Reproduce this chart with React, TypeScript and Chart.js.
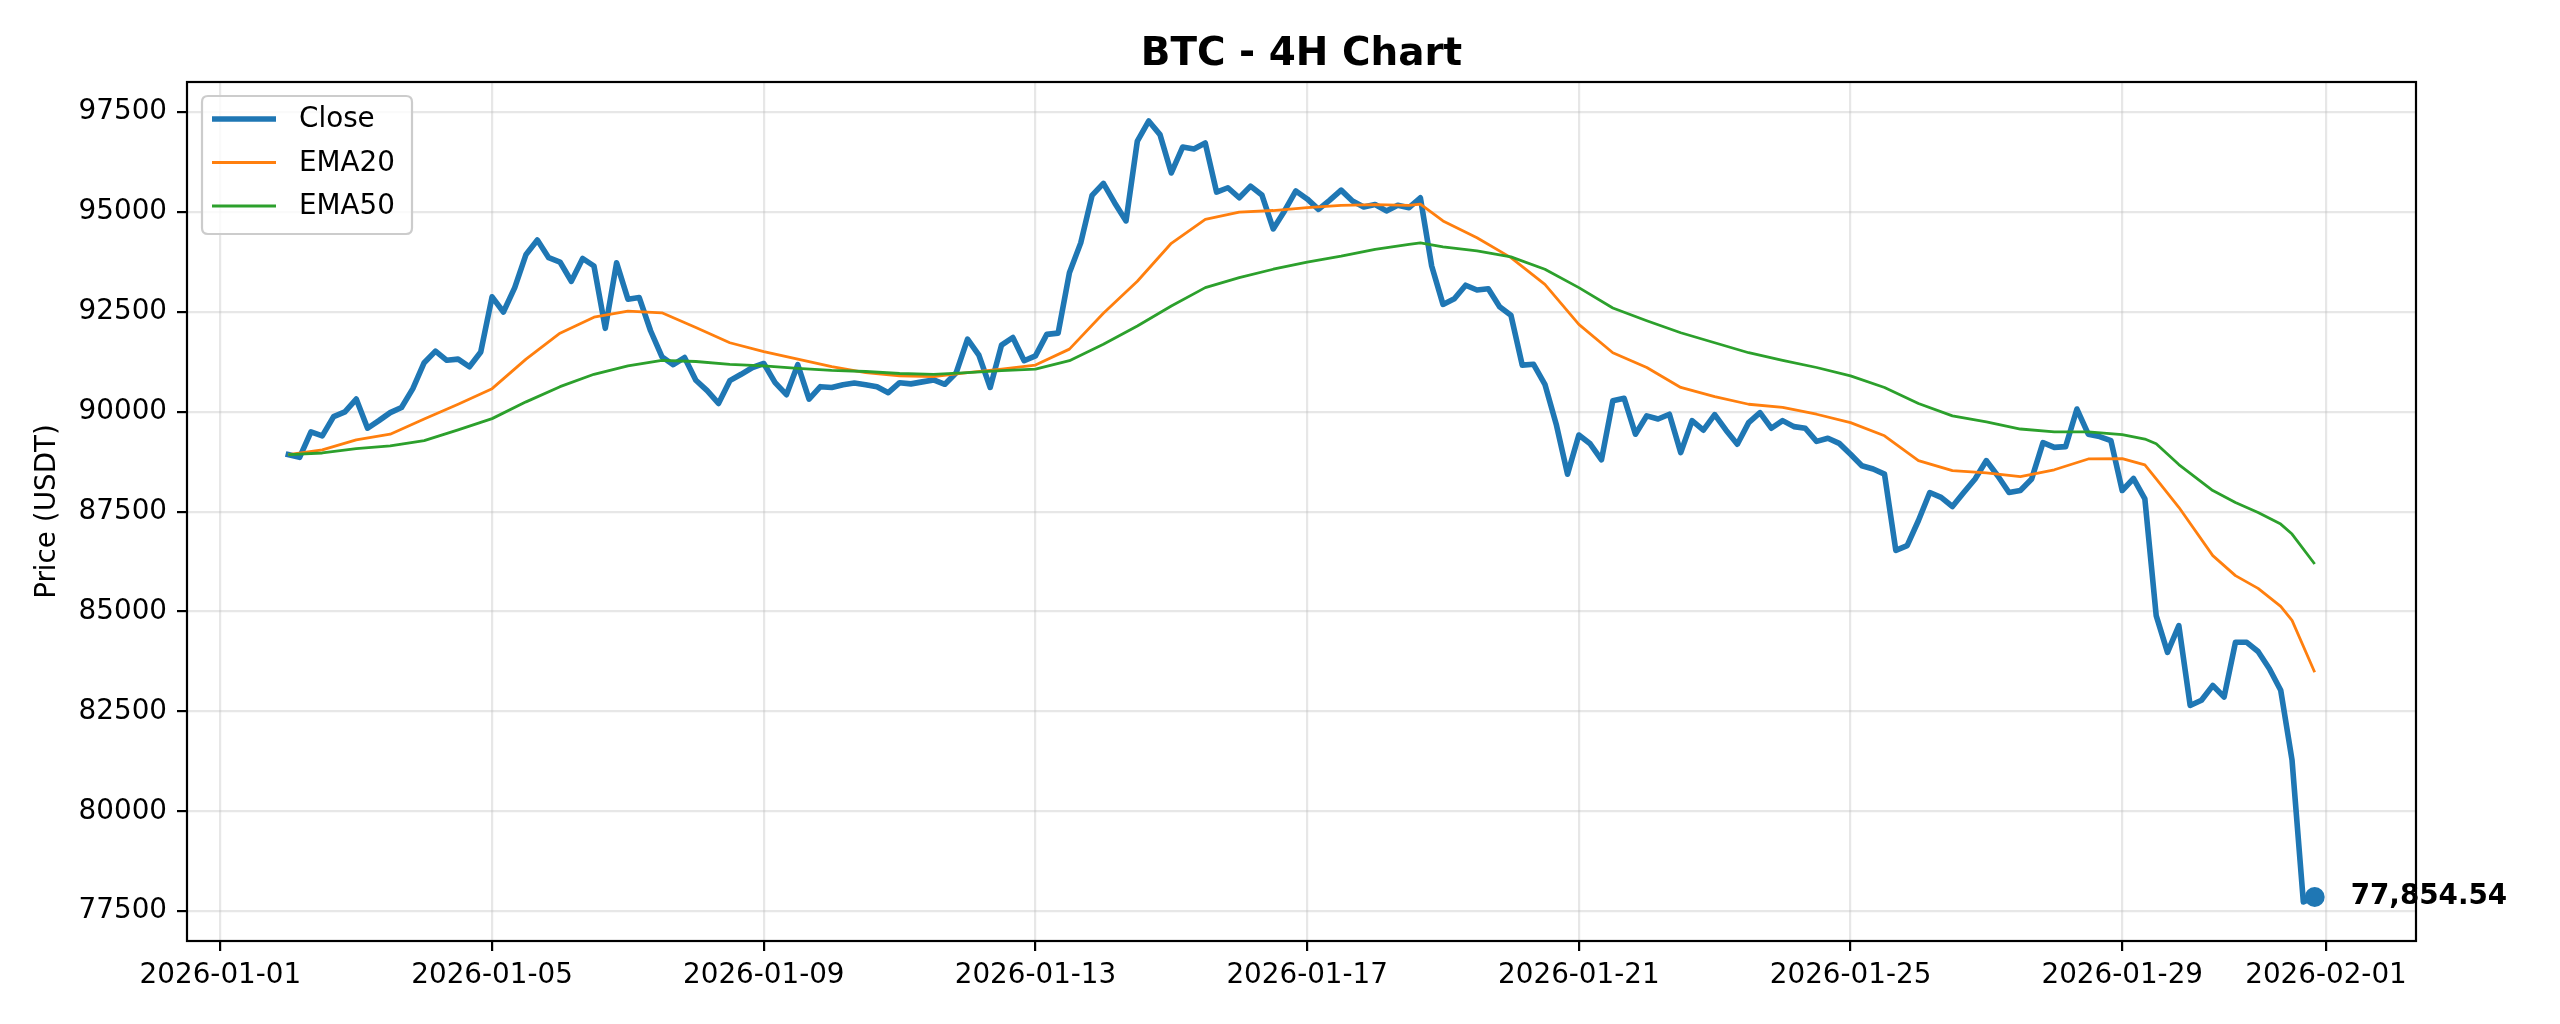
import React, { useEffect, useRef } from "react";
import { Chart, registerables } from "chart.js";

Chart.register(...registerables);

// ---------------- data ----------------
const chartTitle = "BTC - 4H Chart";
const yAxisTitle = "Price (USDT)";
const seriesLabels = ["Close", "EMA20", "EMA50"];
const seriesColors = ["#1f77b4", "#ff7f0e", "#2ca02c"];

const epochDate = "2026-01-01";
const firstBarDate = "2026-01-02";
const stepHours = 4;

// 4H close prices, first bar 2026-01-02 00:00
const closes = [
  88930, 88860, 89500, 89400, 89880, 90000, 90320, 89590, 89780, 89980,
  90110, 90580, 91230, 91520, 91290, 91320, 91130, 91500, 92880, 92500,
  93110, 93940, 94300, 93860, 93750, 93270, 93840, 93650, 92090, 93730,
  92820, 92860, 92030, 91380, 91180, 91360, 90790, 90530, 90210, 90780,
  90940, 91110, 91210, 90730, 90430, 91180, 90320, 90630, 90610, 90680,
  90720, 90680, 90630, 90480, 90730, 90700, 90750, 90800, 90690, 90980,
  91820, 91420, 90610, 91670, 91860, 91280, 91400, 91940, 91970, 93480,
  94230, 95420, 95720, 95230, 94780, 96780, 97280, 96940, 95980, 96630,
  96580, 96730, 95500, 95610, 95360, 95650, 95430, 94580, 95030, 95530,
  95330, 95070, 95300, 95550, 95280, 95130, 95190, 95030, 95170, 95110,
  95360, 93650, 92690, 92830, 93170, 93050, 93080, 92630, 92420, 91170,
  91190, 90690, 89690, 88440, 89420, 89200, 88800, 90280, 90340, 89440,
  89900, 89820, 89940, 88980, 89780, 89540, 89930, 89540, 89190, 89730,
  89980, 89590, 89780, 89630, 89590, 89260, 89340, 89210, 88940, 88650,
  88570, 88440, 86530, 86650, 87280, 87980, 87860, 87630, 87980, 88320,
  88780, 88400, 87980, 88030, 88320, 89230, 89110, 89130, 90070, 89440,
  89380, 89280, 88030, 88330, 87820, 84900, 83980, 84650, 82650, 82780,
  83150, 82860, 84230, 84230, 84000, 83570, 83030, 81280, 77730, 77854.54,
];

// bar indices at which the EMA curves were read
const emaIdx = [
  0, 3, 6, 9, 12, 15, 18, 21, 24, 27, 30, 33, 36, 39, 42, 45, 48, 51, 54, 57,
  60, 63, 66, 69, 72, 75, 78, 81, 84, 87, 90, 93, 96, 99, 100, 102, 105, 108,
  111, 114, 117, 120, 123, 126, 129, 132, 135, 138, 141, 144, 147, 150, 153,
  156, 159, 162, 164, 165, 167, 170, 172, 174, 176, 177, 179,
];

const ema20 = [
  88930, 89050, 89300, 89440, 89820, 90190, 90580, 91320, 91970, 92370,
  92520, 92480, 92110, 91730, 91510, 91320, 91130, 90980, 90900, 90880,
  90980, 91070, 91170, 91570, 92470, 93270, 94220, 94820, 95000, 95040,
  95110, 95170, 95190, 95170, 95200, 94780, 94360, 93860, 93190, 92190,
  91480, 91110, 90610, 90380, 90190, 90110, 89940, 89730, 89400, 88780,
  88530, 88470, 88380, 88550, 88820, 88830, 88670, 88320, 87610, 86400,
  85900, 85580, 85130, 84780, 83480,
];

const ema50 = [
  88930, 88970, 89080, 89150, 89280, 89550, 89830, 90250, 90630, 90940,
  91150, 91290, 91260, 91190, 91150, 91090, 91040, 91010, 90960, 90940,
  90980, 91030, 91070, 91280, 91690, 92150, 92650, 93110, 93360, 93570,
  93750, 93900, 94070, 94190, 94230, 94130, 94030, 93880, 93570, 93110,
  92600, 92280, 91980, 91730, 91480, 91290, 91110, 90900, 90610, 90210,
  89900, 89750, 89570, 89500, 89500, 89430, 89320, 89200, 88680, 88030,
  87730, 87480, 87190, 86940, 86190,
];

const xTickLabels = [
  "2026-01-01", "2026-01-05", "2026-01-09", "2026-01-13", "2026-01-17",
  "2026-01-21", "2026-01-25", "2026-01-29", "2026-02-01",
];

const yTicks = [77500, 80000, 82500, 85000, 87500, 90000, 92500, 95000, 97500];

// ---------------- helpers ----------------
const DAY_MS = 86400000;
const dayOf = (s: string) =>
  (Date.parse(s + "T00:00:00Z") - Date.parse(epochDate + "T00:00:00Z")) / DAY_MS;
const firstDay = dayOf(firstBarDate);
const barX = (i: number) => firstDay + (i * stepHours) / 24;
const xTickVals = xTickLabels.map(dayOf);

const FONT = '"DejaVu Sans", "Liberation Sans", sans-serif';
const FS = 27.8;

export default function App() {
  const ref = useRef<HTMLCanvasElement | null>(null);

  useEffect(() => {
    const canvas = ref.current;
    if (!canvas) return;

    const closeData = closes.map((v, i) => ({ x: barX(i), y: v }));
    const e20Data = emaIdx.map((idx, k) => ({ x: barX(idx), y: ema20[k] }));
    const e50Data = emaIdx.map((idx, k) => ({ x: barX(idx), y: ema50[k] }));
    const lastI = closes.length - 1;
    const lastPt = { x: barX(lastI), y: closes[lastI] };

    const x0 = barX(0);
    const x1 = barX(lastI);
    const xSpan = x1 - x0;
    const allY = [...closes, ...ema20, ...ema50];
    const yLo = Math.min(...allY);
    const yHi = Math.max(...allY);
    const ySpan = yHi - yLo;

    const gridColor = "rgba(176,176,176,0.3)";

    const overlay = {
      id: "overlay",
      afterDraw(chart: any) {
        const { ctx, chartArea: a, scales } = chart;
        ctx.save();
        // spines
        ctx.strokeStyle = "#000";
        ctx.lineWidth = 2.2;
        ctx.strokeRect(a.left, a.top, a.right - a.left, a.bottom - a.top);

        // title
        ctx.fillStyle = "#000";
        ctx.font = `bold 38.9px ${FONT}`;
        ctx.textAlign = "center";
        ctx.textBaseline = "alphabetic";
        ctx.fillText(chartTitle, (a.left + a.right) / 2, a.top - 17);

        // y axis title
        ctx.save();
        ctx.translate(48, (a.top + a.bottom) / 2);
        ctx.rotate(-Math.PI / 2);
        ctx.font = `${FS}px ${FONT}`;
        ctx.textAlign = "center";
        ctx.textBaseline = "middle";
        ctx.fillText(yAxisTitle, 0, 0);
        ctx.restore();

        // last value annotation
        const px = scales.x.getPixelForValue(lastPt.x);
        const py = scales.y.getPixelForValue(lastPt.y);
        ctx.font = `bold ${FS}px ${FONT}`;
        ctx.textAlign = "left";
        ctx.textBaseline = "middle";
        ctx.fillText(
          lastPt.y.toLocaleString("en-US", {
            minimumFractionDigits: 2,
            maximumFractionDigits: 2,
          }),
          px + 36,
          py
        );

        // legend
        const bx = a.left + 15;
        const by = a.top + 14;
        const bw = 210;
        const bh = 138;
        const r = 6;
        ctx.beginPath();
        ctx.moveTo(bx + r, by);
        ctx.lineTo(bx + bw - r, by);
        ctx.quadraticCurveTo(bx + bw, by, bx + bw, by + r);
        ctx.lineTo(bx + bw, by + bh - r);
        ctx.quadraticCurveTo(bx + bw, by + bh, bx + bw - r, by + bh);
        ctx.lineTo(bx + r, by + bh);
        ctx.quadraticCurveTo(bx, by + bh, bx, by + bh - r);
        ctx.lineTo(bx, by + r);
        ctx.quadraticCurveTo(bx, by, bx + r, by);
        ctx.closePath();
        ctx.fillStyle = "rgba(255,255,255,0.8)";
        ctx.fill();
        ctx.strokeStyle = "#cccccc";
        ctx.lineWidth = 2.2;
        ctx.stroke();

        const rowY = [by + 23, by + 66.5, by + 110];
        const widths = [5.6, 2.8, 2.8];
        seriesLabels.forEach((lab, k) => {
          ctx.beginPath();
          ctx.strokeStyle = seriesColors[k];
          ctx.lineWidth = widths[k];
          ctx.lineCap = "butt";
          ctx.moveTo(bx + 10, rowY[k]);
          ctx.lineTo(bx + 74, rowY[k]);
          ctx.stroke();
          ctx.fillStyle = "#000";
          ctx.font = `${FS}px ${FONT}`;
          ctx.textAlign = "left";
          ctx.textBaseline = "middle";
          ctx.fillText(lab, bx + 97, rowY[k] + 1);
        });
        ctx.restore();
      },
    };

    const tickFont = { family: FONT, size: FS };

    const chart = new Chart(canvas, {
      type: "line",
      data: {
        datasets: [
          {
            type: "scatter",
            label: "last",
            data: [lastPt],
            pointRadius: 10,
            pointBackgroundColor: seriesColors[0],
            pointBorderWidth: 0,
            showLine: false,
          } as any,
          {
            label: seriesLabels[2],
            data: e50Data,
            borderColor: seriesColors[2],
            borderWidth: 2.8,
            pointRadius: 0,
            tension: 0,
            borderJoinStyle: "round",
          },
          {
            label: seriesLabels[1],
            data: e20Data,
            borderColor: seriesColors[1],
            borderWidth: 2.8,
            pointRadius: 0,
            tension: 0,
            borderJoinStyle: "round",
          },
          {
            label: seriesLabels[0],
            data: closeData,
            borderColor: seriesColors[0],
            borderWidth: 5.6,
            pointRadius: 0,
            tension: 0,
            borderJoinStyle: "round",
            borderCapStyle: "square",
          },
        ],
      },
      options: {
        animation: false,
        responsive: false,
        devicePixelRatio: 1,
        events: [],
        layout: { padding: { top: 82, right: 144, left: 0, bottom: 0 } },
        plugins: {
          legend: { display: false },
          title: { display: false },
          tooltip: { enabled: false },
        },
        scales: {
          x: {
            type: "linear",
            min: x0 - 0.05 * xSpan,
            max: x1 + 0.05 * xSpan,
            afterFit: (s: any) => {
              s.height = 83;
            },
            afterBuildTicks: (s: any) => {
              s.ticks = xTickVals.map((v) => ({ value: v }));
            },
            ticks: {
              autoSkip: false,
              maxRotation: 0,
              minRotation: 0,
              padding: 8,
              color: "#000",
              font: tickFont,
              callback: (v: any) => {
                const k = xTickVals.findIndex((t) => Math.abs(t - Number(v)) < 1e-6);
                return k >= 0 ? xTickLabels[k] : "";
              },
            },
            grid: {
              color: gridColor,
              lineWidth: 2.2,
              tickLength: 10,
              tickColor: "#000",
              tickWidth: 2.2,
            },
            border: { display: false },
          },
          y: {
            type: "linear",
            min: yLo - 0.05 * ySpan,
            max: yHi + 0.05 * ySpan,
            afterFit: (s: any) => {
              s.width = 187;
            },
            afterBuildTicks: (s: any) => {
              s.ticks = yTicks.map((v) => ({ value: v }));
            },
            ticks: {
              autoSkip: false,
              padding: 10,
              color: "#000",
              font: tickFont,
              callback: (v: any) => String(Math.round(Number(v))),
            },
            grid: {
              color: gridColor,
              lineWidth: 2.2,
              tickLength: 10,
              tickColor: "#000",
              tickWidth: 2.2,
            },
            border: { display: false },
          },
        },
      },
      plugins: [overlay],
    } as any);

    return () => {
      chart.destroy();
    };
  }, []);

  return (
    <div
      style={{
        position: "absolute",
        left: 0,
        top: 0,
        width: 2560,
        height: 1024,
        background: "#fff",
      }}
    >
      <canvas
        ref={ref}
        width={2560}
        height={1024}
        style={{ display: "block", width: 2560, height: 1024 }}
      />
    </div>
  );
}
